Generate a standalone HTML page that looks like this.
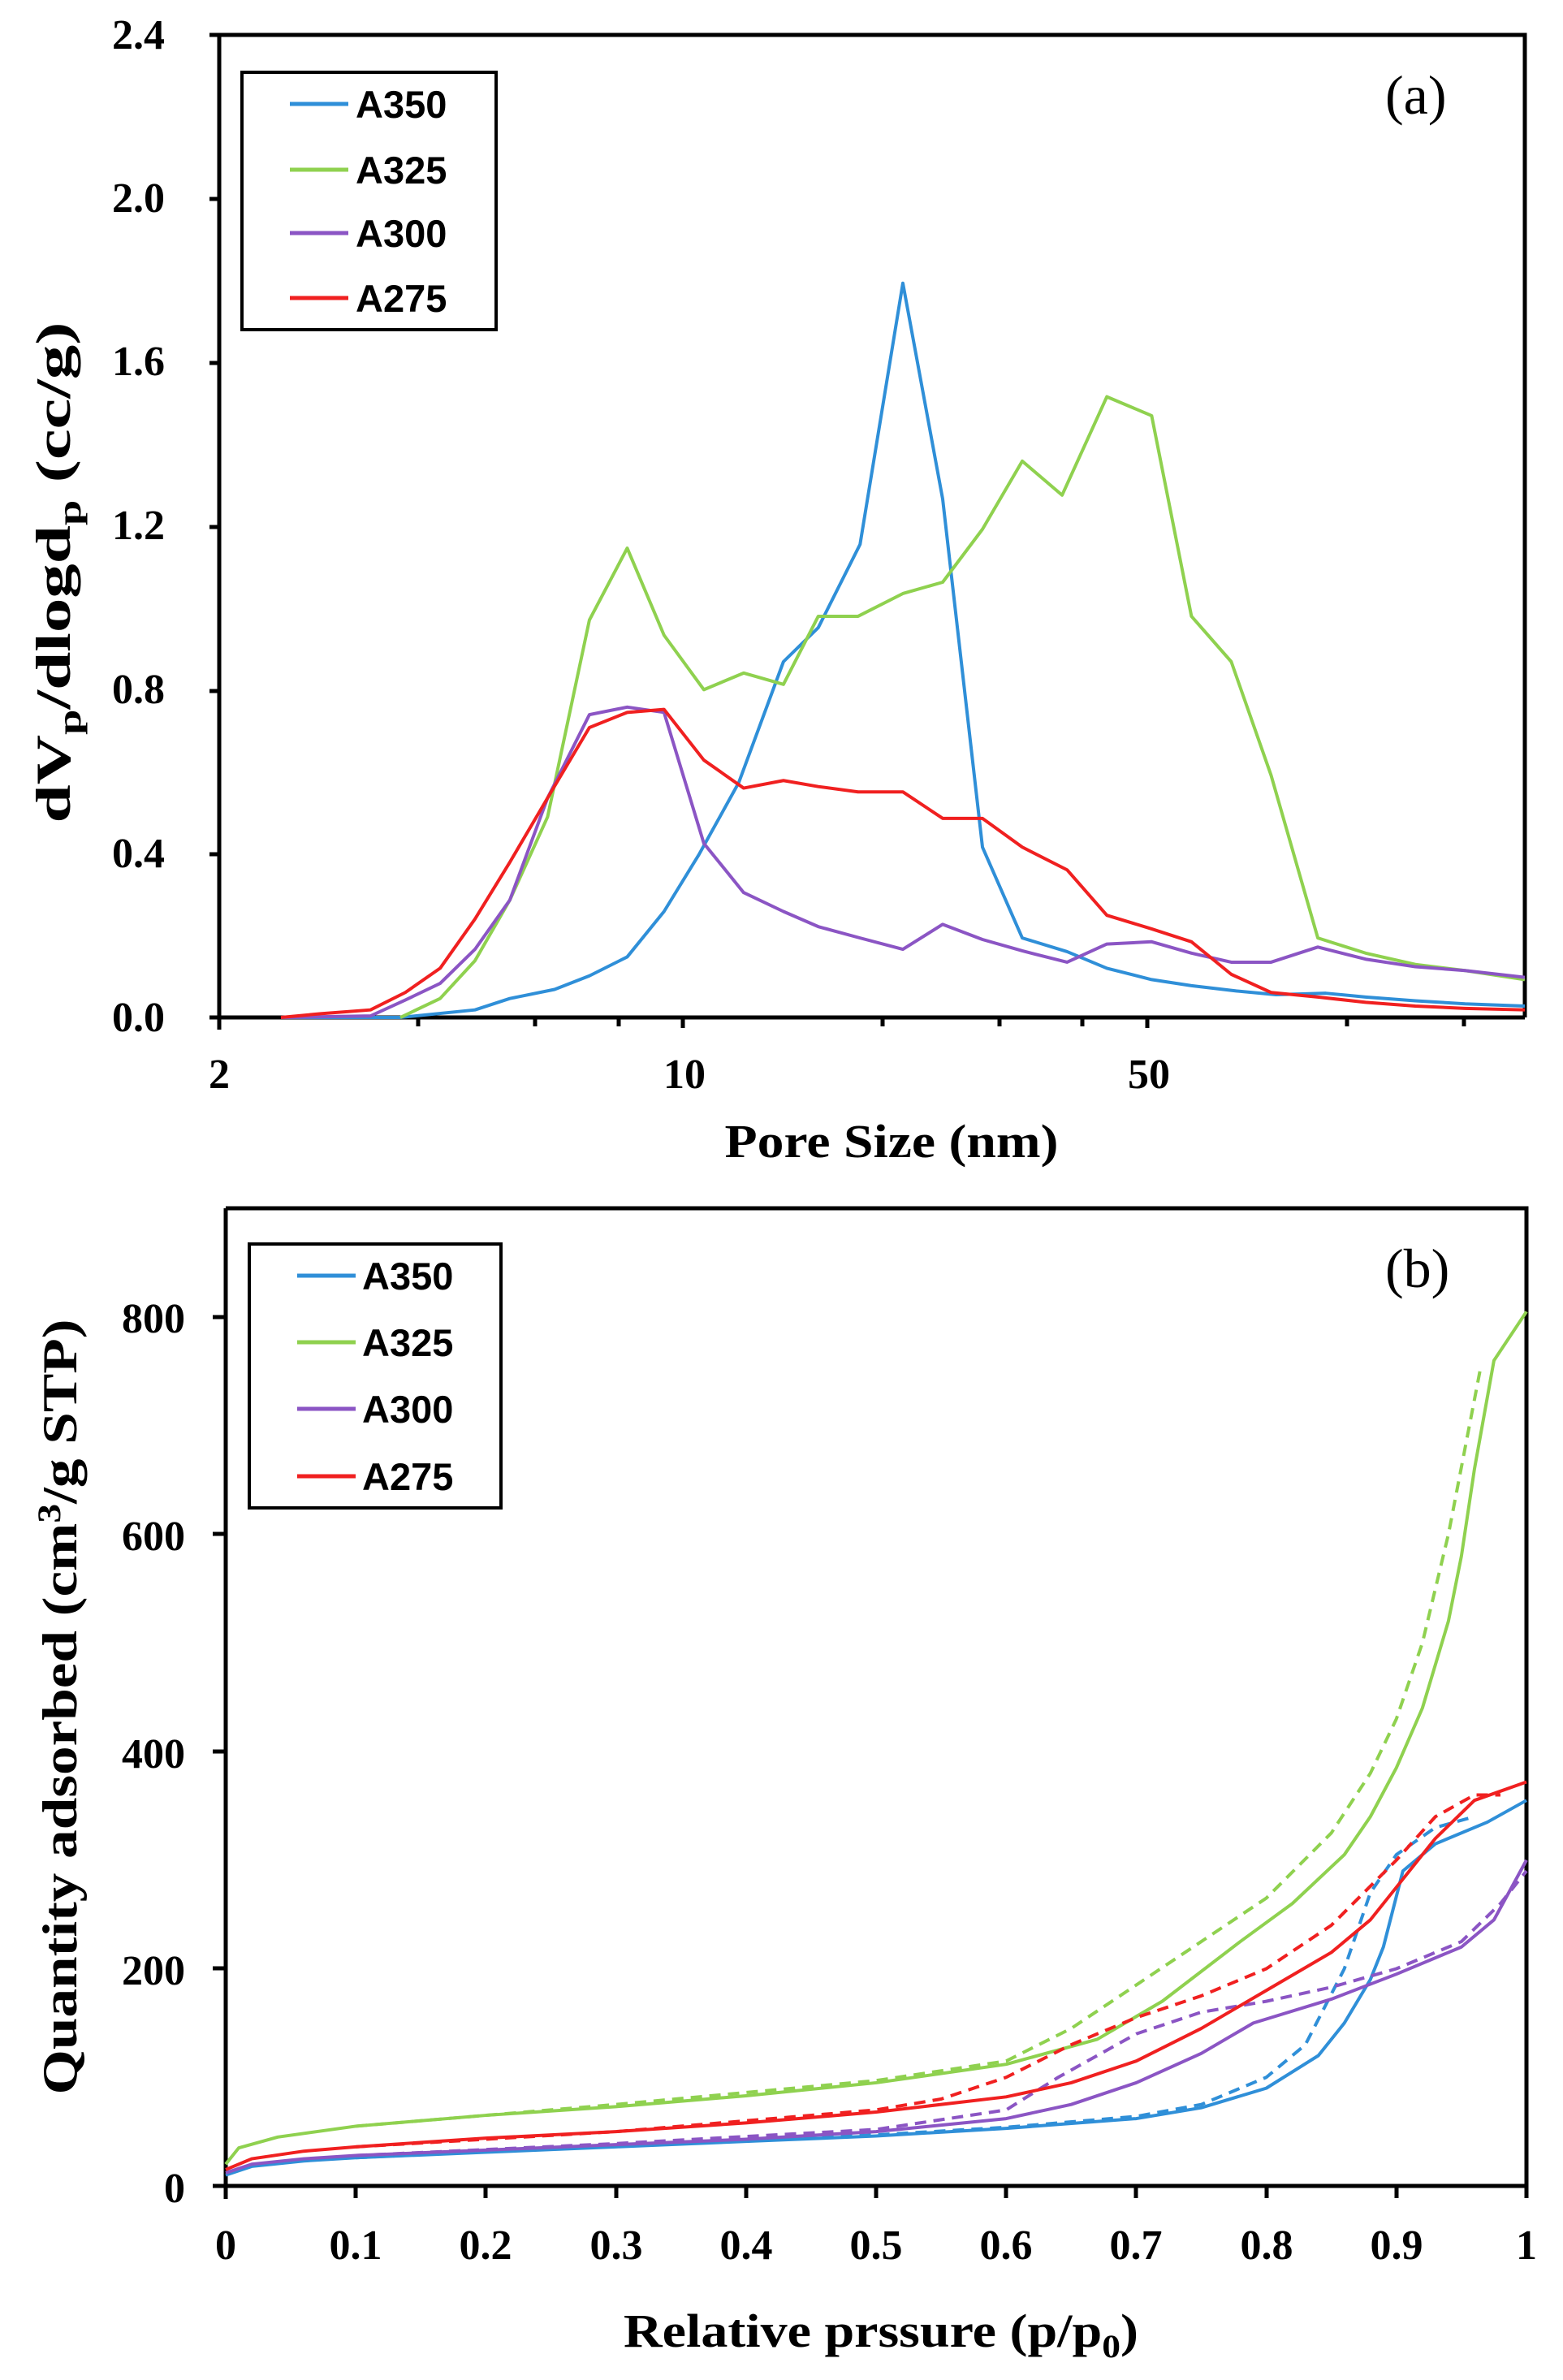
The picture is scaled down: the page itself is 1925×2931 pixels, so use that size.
<!DOCTYPE html>
<html><head><meta charset="utf-8"><style>
html,body{margin:0;padding:0;background:#fff}
svg{display:block}
.t{font-family:"Liberation Serif",serif;font-weight:bold;fill:#000}
.l{font-family:"Liberation Sans",sans-serif;font-weight:bold;fill:#000;font-size:47px}
.s{fill:none;stroke-width:4;vector-effect:non-scaling-stroke;stroke-linejoin:round}
</style></head><body>
<svg width="1925" height="2931" viewBox="0 0 1925 2931" xmlns="http://www.w3.org/2000/svg">
<!-- TOP CHART -->
<g stroke="#000" stroke-width="5" fill="none">
<polyline points="270,43 1878,43 1878,1253"/>
<line x1="270" y1="43" x2="270" y2="1268"/>
<line x1="258" y1="1253" x2="1878" y2="1253"/>
<line x1="258" y1="43" x2="270" y2="43"/><line x1="258" y1="245" x2="270" y2="245"/><line x1="258" y1="447" x2="270" y2="447"/><line x1="258" y1="649" x2="270" y2="649"/><line x1="258" y1="851" x2="270" y2="851"/><line x1="258" y1="1052" x2="270" y2="1052"/>
<line x1="515" y1="1253" x2="515" y2="1264"/><line x1="659" y1="1253" x2="659" y2="1264"/><line x1="762" y1="1253" x2="762" y2="1264"/><line x1="841" y1="1253" x2="841" y2="1266"/>
<line x1="1087" y1="1253" x2="1087" y2="1264"/><line x1="1231" y1="1253" x2="1231" y2="1264"/><line x1="1333" y1="1253" x2="1333" y2="1264"/><line x1="1413" y1="1253" x2="1413" y2="1266"/>
<line x1="1659" y1="1253" x2="1659" y2="1264"/><line x1="1803" y1="1253" x2="1803" y2="1264"/>
</g>
<g class="t" font-size="52" text-anchor="end">
<text x="203" y="1270">0.0</text><text x="203" y="1068">0.4</text><text x="203" y="866">0.8</text><text x="203" y="664">1.2</text><text x="203" y="462">1.6</text><text x="203" y="261">2.0</text><text x="203" y="60">2.4</text>
</g>
<g class="t" font-size="52" text-anchor="middle">
<text x="270" y="1340">2</text><text x="843" y="1340">10</text><text x="1415" y="1340">50</text>
</g>
<text class="t" font-size="58" x="1098" y="1425" text-anchor="middle" textLength="411" lengthAdjust="spacingAndGlyphs">Pore Size (nm)</text>
<text class="t" font-size="60" transform="translate(86,705) rotate(-90)" text-anchor="middle" textLength="617" lengthAdjust="spacingAndGlyphs">dV<tspan font-size="40" dy="13">p</tspan><tspan dy="-13">/dlogd</tspan><tspan font-size="40" dy="13">p</tspan><tspan dy="-13"> (cc/g)</tspan></text>
<text font-family="Liberation Serif,serif" font-size="68" x="1706" y="140">(a)</text>
<g transform="matrix(1.2256,0,0,0.9322,2.8,-0.8)">
<polyline class="s" stroke="#2f8fd8" points="280,1345 400,1345 475,1335 510,1320 555,1308 590,1290 628,1265 665,1205 700,1130 740,1035 785,875 820,830 862,720 905,375 945,660 985,1120 1025,1240 1070,1258 1110,1280 1155,1295 1195,1303 1240,1310 1280,1315 1330,1313 1370,1318 1420,1323 1470,1327 1530,1330"/>
<polyline class="s" stroke="#8fd14f" points="400,1345 440,1320 475,1270 510,1190 548,1080 590,820 628,725 665,840 705,912 745,890 785,905 820,815 860,815 905,785 945,770 985,700 1025,610 1065,655 1110,525 1155,550 1195,815 1235,875 1275,1025 1322,1240 1370,1260 1420,1275 1470,1283 1530,1295"/>
<polyline class="s" stroke="#8b55c4" points="280,1345 370,1343 405,1322 440,1300 475,1255 510,1190 548,1055 590,945 628,935 665,942 705,1115 745,1180 785,1205 820,1225 862,1240 905,1255 945,1222 985,1242 1025,1257 1070,1272 1110,1248 1155,1245 1195,1260 1235,1272 1275,1272 1322,1252 1370,1268 1420,1278 1470,1283 1530,1292"/>
<polyline class="s" stroke="#f02020" points="280,1345 320,1340 370,1335 405,1312 440,1280 475,1215 510,1140 548,1055 590,962 628,942 665,938 705,1005 745,1042 785,1032 820,1040 860,1047 905,1047 945,1082 985,1082 1025,1120 1070,1150 1110,1210 1155,1228 1195,1245 1235,1288 1275,1312 1322,1318 1370,1325 1420,1330 1470,1333 1530,1335"/>
</g>
<rect x="298" y="89" width="313" height="317" fill="#fff" stroke="#000" stroke-width="4"/>
<g stroke-width="5">
<line x1="357" y1="128" x2="429" y2="128" stroke="#2f8fd8"/><line x1="357" y1="209" x2="429" y2="209" stroke="#8fd14f"/><line x1="357" y1="287" x2="429" y2="287" stroke="#8b55c4"/><line x1="357" y1="367" x2="429" y2="367" stroke="#f02020"/>
</g>
<text class="l" x="438" y="145">A350</text><text class="l" x="438" y="226">A325</text><text class="l" x="438" y="304">A300</text><text class="l" x="438" y="384">A275</text>

<!-- BOTTOM CHART -->
<g stroke="#000" stroke-width="5" fill="none">
<polyline points="278,1488 1880,1488 1880,2692"/>
<line x1="278" y1="1488" x2="278" y2="2708"/>
<line x1="262" y1="2692" x2="1880" y2="2692"/>
<line x1="262" y1="2424" x2="278" y2="2424"/><line x1="262" y1="2157" x2="278" y2="2157"/><line x1="262" y1="1889" x2="278" y2="1889"/><line x1="262" y1="1622" x2="278" y2="1622"/>
<line x1="438" y1="2692" x2="438" y2="2707"/><line x1="598" y1="2692" x2="598" y2="2707"/><line x1="759" y1="2692" x2="759" y2="2707"/><line x1="919" y1="2692" x2="919" y2="2707"/><line x1="1079" y1="2692" x2="1079" y2="2707"/><line x1="1239" y1="2692" x2="1239" y2="2707"/><line x1="1399" y1="2692" x2="1399" y2="2707"/><line x1="1560" y1="2692" x2="1560" y2="2707"/><line x1="1720" y1="2692" x2="1720" y2="2707"/><line x1="1880" y1="2692" x2="1880" y2="2707"/>
</g>
<g class="t" font-size="52" text-anchor="end">
<text x="228" y="2712">0</text><text x="228" y="2444">200</text><text x="228" y="2177">400</text><text x="228" y="1909">600</text><text x="228" y="1641">800</text>
</g>
<g class="t" font-size="52" text-anchor="middle">
<text x="278" y="2782">0</text><text x="438" y="2782">0.1</text><text x="598" y="2782">0.2</text><text x="759" y="2782">0.3</text><text x="919" y="2782">0.4</text><text x="1079" y="2782">0.5</text><text x="1239" y="2782">0.6</text><text x="1399" y="2782">0.7</text><text x="1560" y="2782">0.8</text><text x="1720" y="2782">0.9</text><text x="1880" y="2782">1</text>
</g>
<text class="t" font-size="58" x="1085" y="2890" text-anchor="middle" textLength="634" lengthAdjust="spacingAndGlyphs">Relative prssure (p/p<tspan font-size="40" dy="13">0</tspan><tspan dy="-13">)</tspan></text>
<text class="t" font-size="60" transform="translate(94,2102) rotate(-90)" text-anchor="middle" textLength="955" lengthAdjust="spacingAndGlyphs">Quantity adsorbed  (cm<tspan font-size="40" dy="-20">3</tspan><tspan dy="20">/g STP)</tspan></text>
<text font-family="Liberation Serif,serif" font-size="68" x="1706" y="1585">(b)</text>
<g transform="matrix(1602,0,0,-1.3375,278,2692)">
<polyline class="s" stroke="#8fd14f" points="0,20 0.01,35 0.04,45 0.1,55 0.2,65 0.3,73 0.4,83 0.5,95 0.6,112 0.67,135 0.72,170 0.78,225 0.82,260 0.86,305 0.88,340 0.9,385 0.92,440 0.94,520 0.95,580 0.96,660 0.975,760 1.0,805"/>
<polyline class="s" stroke="#8fd14f" stroke-dasharray="14 9" points="0.1,55 0.3,75 0.5,97 0.6,115 0.65,145 0.7,185 0.75,225 0.8,265 0.85,325 0.88,380 0.9,430 0.92,500 0.94,600 0.965,755"/>
<polyline class="s" stroke="#2f8fd8" points="0,10 0.02,18 0.06,23 0.1,26 0.2,31 0.3,36 0.4,41 0.5,46 0.6,53 0.7,62 0.75,72 0.8,90 0.84,120 0.86,150 0.88,190 0.89,220 0.905,290 0.93,315 0.97,335 1.0,355"/>
<polyline class="s" stroke="#2f8fd8" stroke-dasharray="14 9" points="0.1,26 0.3,37 0.5,47 0.6,54 0.7,64 0.75,75 0.8,100 0.83,130 0.86,200 0.88,270 0.9,305 0.93,330 0.96,340"/>
<polyline class="s" stroke="#8b55c4" points="0,12 0.02,20 0.06,25 0.1,28 0.2,33 0.3,38 0.4,43 0.5,50 0.6,62 0.65,75 0.7,95 0.75,122 0.79,150 0.85,172 0.9,195 0.95,220 0.975,245 1.0,300"/>
<polyline class="s" stroke="#8b55c4" stroke-dasharray="14 9" points="0.1,28 0.3,39 0.5,52 0.6,70 0.64,100 0.7,140 0.75,160 0.8,170 0.85,183 0.9,200 0.95,225 0.98,260 1.0,290"/>
<polyline class="s" stroke="#f02020" points="0,15 0.02,25 0.06,32 0.1,36 0.2,44 0.3,50 0.4,58 0.5,68 0.6,82 0.65,95 0.7,115 0.75,145 0.8,180 0.85,215 0.88,245 0.9,275 0.93,320 0.96,355 1.0,372"/>
<polyline class="s" stroke="#f02020" stroke-dasharray="14 9" points="0.1,36 0.3,50 0.5,70 0.55,80 0.6,100 0.65,130 0.7,155 0.75,175 0.8,200 0.85,240 0.9,300 0.93,340 0.96,360 0.98,360"/>
</g>
<rect x="307" y="1532" width="310" height="325" fill="#fff" stroke="#000" stroke-width="4"/>
<g stroke-width="5">
<line x1="366" y1="1571" x2="438" y2="1571" stroke="#2f8fd8"/><line x1="366" y1="1653" x2="438" y2="1653" stroke="#8fd14f"/><line x1="366" y1="1735" x2="438" y2="1735" stroke="#8b55c4"/><line x1="366" y1="1818" x2="438" y2="1818" stroke="#f02020"/>
</g>
<text class="l" x="446" y="1588">A350</text><text class="l" x="446" y="1670">A325</text><text class="l" x="446" y="1752">A300</text><text class="l" x="446" y="1835">A275</text>
</svg>
</body></html>
